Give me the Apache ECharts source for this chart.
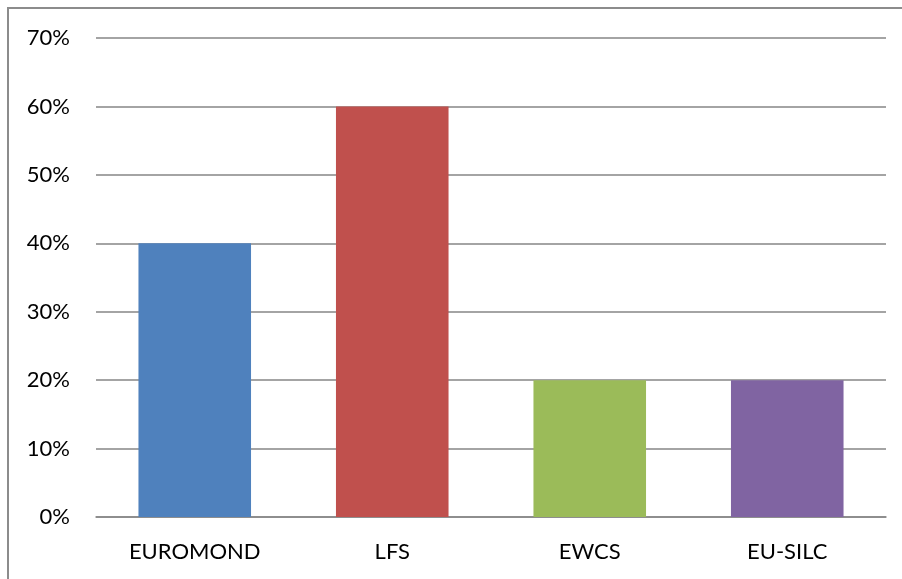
<!DOCTYPE html>
<html>
<head>
<meta charset="utf-8">
<script src="https://cdn.jsdelivr.net/npm/echarts@6/dist/echarts.min.js"></script>
<style>
  html, body { margin: 0; padding: 0; background: #fff; }
  #chart { width: 902px; height: 579px; }
</style>
</head>
<body>
<div id="chart"></div>
<script>
const categories = ['EUROMOND', 'LFS', 'EWCS', 'EU-SILC']
const shares = [40, 60, 20, 20]
const barColors = ['#4F81BD', '#C0504D', '#9BBB59', '#8064A2']

const chart = echarts.init(document.getElementById('chart'))

chart.setOption({
  animation: false,
  textStyle: { fontFamily: 'Lato' },
  graphic: [
    {
      type: 'polyline',
      shape: { points: [[8, 579], [8, 8], [902, 8]] },
      style: { stroke: '#8c8c8c', lineWidth: 2, fill: null },
    },
  ],
  grid: {
    left: 96,
    right: 16,
    top: 38,
    bottom: 62,
  },
  xAxis: {
    type: 'category',
    data: categories,
    axisLine: { lineStyle: { color: '#868686', width: 1.5 } },
    axisTick: { show: false },
    axisLabel: { color: '#000', fontSize: 22, margin: 24 },
  },
  yAxis: {
    type: 'value',
    min: 0,
    max: 70,
    interval: 10,
    axisLine: { show: false },
    axisTick: { show: false },
    axisLabel: { color: '#000', fontSize: 22, margin: 26, formatter: '{value}%' },
    splitLine: { lineStyle: { color: '#868686', width: 1.5 } },
  },
  series: [
    {
      type: 'bar',
      barWidth: '57%',
      data: shares.map((v, i) => ({ value: v, itemStyle: { color: barColors[i] } })),
    },
  ],
})
</script>
</body>
</html>
